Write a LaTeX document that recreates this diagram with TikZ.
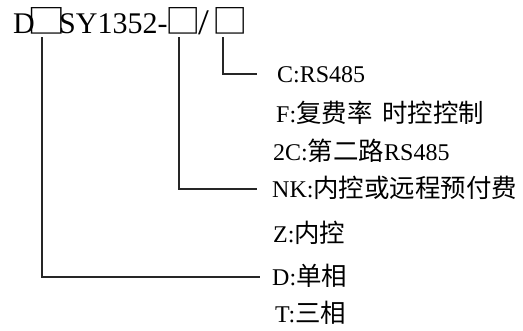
\documentclass[tikz,border=0pt]{standalone}
\usepackage{fontspec}
\setmainfont{Liberation Serif}
\newfontfamily\cjk[Scale=1.06]{Noto Sans CJK SC}
\newfontfamily\boxfont{Noto Sans CJK SC}
\newcommand{\bigbox}{\scalebox{1.28}[1.11]{\boxfont □}}
\newcommand{\midbox}{\scalebox{1.18}[1.11]{\boxfont □}}
\begin{document}
\begin{tikzpicture}[x=1pt,y=-1pt,
  ttl/.style={inner sep=0pt,anchor=base west,font=\fontsize{30}{32}\selectfont},
  bx/.style={inner sep=0pt,anchor=base west,font=\fontsize{30}{32}\selectfont,text height=21pt,text depth=0pt},
  lbl/.style={inner sep=0pt,anchor=base west,font=\fontsize{24}{26}\selectfont,text height=18pt,text depth=0pt},
  conn/.style={draw=black!85,line width=1.2pt,shorten <=3pt}]
\useasboundingbox (0,0) rectangle (523,331);
% title
\node[ttl] (tD) at (13,34) {D};
\node[bx] (b1) at (27.5,34) {\bigbox};
\node[ttl] (tS) at (59,34) {SY1352-};
\node[bx] (b2) at (165,34) {\midbox};
\node[ttl] (tsl) at (198,35) {\scalebox{1.3}[1.2]{/}};
\node[bx] (b3) at (212,34) {\midbox};
% labels
\node[lbl] (lC)  at (277,83)  {C:RS485};
\node[lbl] (lF)  at (276,123) {F:{\cjk 复费率\hspace{4pt} 时控控制}};
\node[lbl] (l2C) at (273,161) {2C:{\cjk 第二路}RS485};
\node[lbl] (lNK) at (272,198) {NK:{\cjk 内控或远程预付费}};
\node[lbl] (lZ)  at (273,243) {Z:{\cjk 内控}};
\node[lbl] (lD)  at (272,286) {D:{\cjk 单相}};
\node[lbl] (lT)  at (275,323) {T:{\cjk 三相}};
% connectors
\draw[conn,shorten >=20pt] ([xshift=11pt]b3.south west) |- (lC);
\draw[conn,shorten >=15pt] ([xshift=14pt]b2.south west) |- (lNK);
\draw[conn,shorten >=12pt] ([xshift=14.5pt]b1.south west) |- (lD);
\end{tikzpicture}
\end{document}
